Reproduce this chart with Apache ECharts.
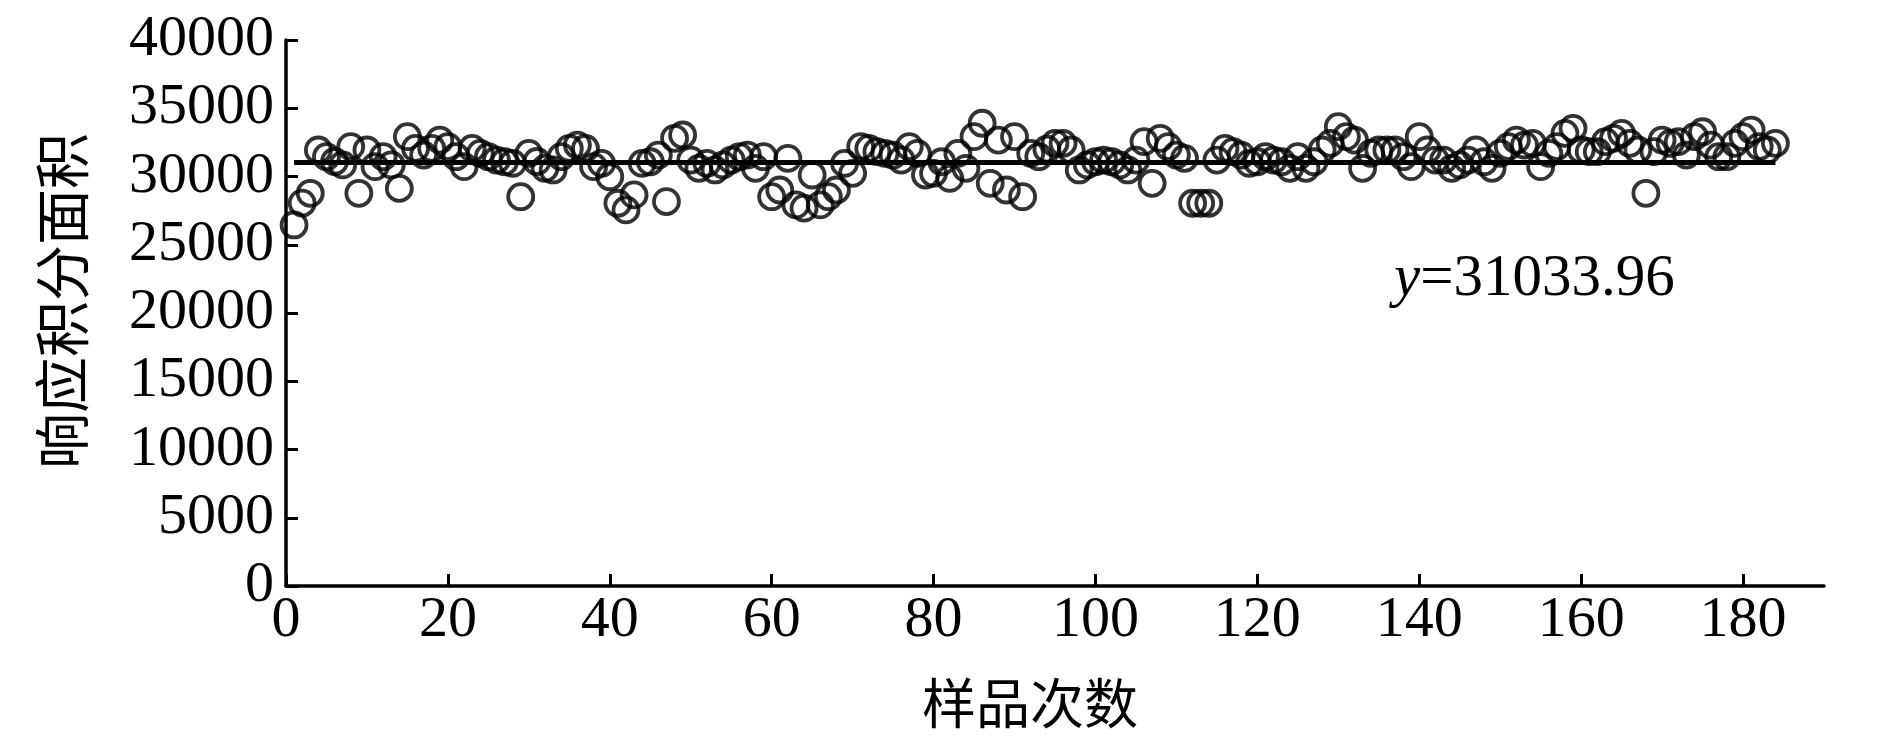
<!DOCTYPE html>
<html>
<head>
<meta charset="utf-8">
<script src="https://cdn.jsdelivr.net/npm/echarts@6/dist/echarts.min.js"></script>
<style>
html,body{margin:0;padding:0;background:#fff;}
#c{width:1887px;height:755px;}
</style>
</head>
<body>
<div id="c"></div>
<script>
// Response integral area for each sample run (index 1..184)
const values = [
26450,28050,28770,31940,31450,31100,30850,32190,28770,31940,
30720,31450,30850,29130,32920,32060,31570,32060,32670,32190,
31450,30720,32060,31690,31450,31200,31080,30960,28520,31690,
31100,30600,30480,31450,32060,32300,32060,30720,30960,29980,
28040,27550,28650,30960,31080,31570,28160,32800,33040,31200,
30600,30960,30480,30850,31200,31450,31570,30600,31450,28520,
29010,31330,27920,27680,30110,27920,28520,29010,30960,30230,
32190,32060,31820,31690,31570,31200,32190,31690,30110,30230,
31080,29860,31690,30600,32920,33900,29500,32670,29010,32920,
28520,31690,31450,32000,32430,32430,31940,30480,30850,31080,
31200,31080,30850,30480,31200,32550,29500,32800,32190,31570,
31330,28040,28040,28040,31200,32060,31820,31570,30960,31080,
31450,31200,31080,30600,31450,30600,31080,31940,32430,33650,
32920,32670,30600,31690,31940,31940,31940,31450,30720,32920,
31940,31200,31200,30600,30850,31200,31940,31080,30600,31690,
32190,32670,32300,32430,30720,31690,32190,33160,33530,31940,
31820,31820,32550,32800,33160,32430,31940,28770,31820,32670,
32430,32550,31570,32920,33280,32300,31450,31450,32430,32920,
33400,32190,31940,32430
];
const meanValue = 31033.96;
const xTicks = [0,20,40,60,80,100,120,140,160,180];
const yTicks = [0,5000,10000,15000,20000,25000,30000,35000,40000];
const xName = '样品次数';
const yName = '响应积分面积';
const annotation = '{i|y}=31033.96';

const points = values.map((v, k) => [k + 1, v]);
const meanLine = [[1, meanValue], [values.length, meanValue]];

const chart = echarts.init(document.getElementById('c'), null, {renderer: 'canvas'});
const serif = '"Liberation Serif", "Times New Roman", serif';
const cjk = '"Noto Sans CJK SC", sans-serif';
const plain = v => String(v);

chart.setOption({
  animation: false,
  backgroundColor: '#fff',
  grid: {left: 286, right: 63, top: 40, bottom: 169, containLabel: false},
  xAxis: {
    type: 'value',
    min: 0, max: 190,
    interval: 20,
    name: xName,
    nameLocation: 'middle',
    nameGap: 90,
    nameTextStyle: {fontFamily: cjk, fontSize: 54, color: '#000', padding: [0, 50, 0, 0]},
    axisLine: {show: true, lineStyle: {color: '#000', width: 3.5}},
    axisTick: {show: true, inside: true, length: 12, lineStyle: {color: '#000', width: 3}, customValues: xTicks},
    axisLabel: {fontFamily: serif, fontSize: 58, color: '#000', margin: 6, formatter: plain, customValues: xTicks},
    splitLine: {show: false}
  },
  yAxis: {
    type: 'value',
    min: 0, max: 40000,
    interval: 5000,
    name: yName,
    nameLocation: 'middle',
    nameGap: 196,
    nameRotate: 90,
    nameTextStyle: {fontFamily: cjk, fontSize: 56, color: '#000', padding: [0, 0, 0, 24]},
    axisLine: {show: true, lineStyle: {color: '#000', width: 3.5}},
    axisTick: {show: true, inside: true, length: 12, lineStyle: {color: '#000', width: 3}, customValues: yTicks},
    axisLabel: {fontFamily: serif, fontSize: 58, color: '#000', margin: 12, formatter: plain, customValues: yTicks},
    splitLine: {show: false}
  },
  graphic: [{
    type: 'text',
    left: 1394,
    top: 250,
    style: {
      text: annotation,
      fontFamily: serif,
      fontSize: 59,
      fill: '#000',
      rich: {i: {fontFamily: serif, fontSize: 59, fontStyle: 'italic', fill: '#000'}}
    }
  }],
  series: [
    {
      type: 'scatter',
      data: points,
      symbol: 'circle',
      symbolSize: 25,
      itemStyle: {color: 'rgba(0,0,0,0)', borderColor: '#000', borderWidth: 3.8},
      z: 2
    },
    {
      type: 'line',
      data: meanLine,
      symbol: 'none',
      lineStyle: {color: '#000', width: 5},
      z: 3
    }
  ]
});
</script>
</body>
</html>
